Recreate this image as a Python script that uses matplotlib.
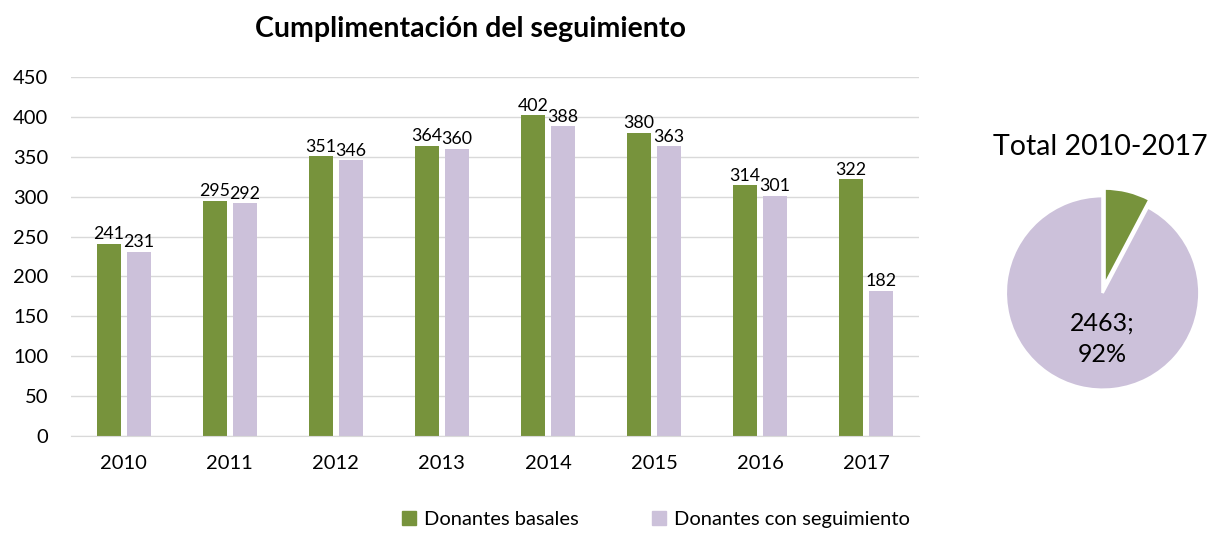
import numpy as np
import matplotlib.pyplot as plt
from matplotlib.patches import Patch

plt.rcParams['font.family'] = ['Lato', 'DejaVu Sans']

years = ['2010', '2011', '2012', '2013', '2014', '2015', '2016', '2017']
basales = [241, 295, 351, 364, 402, 380, 314, 322]
seguimiento = [231, 292, 346, 360, 388, 363, 301, 182]

green = '#77933C'
lilac = '#CCC1DA'

fig = plt.figure(figsize=(12.19, 5.34), dpi=100)

# barras
ax = fig.add_axes([0.058, 0.1835, 0.696, 0.6725])
x = np.arange(len(years))
w = 0.226
b1 = ax.bar(x - 0.142, basales, w, color=green)
b2 = ax.bar(x + 0.142, seguimiento, w, color=lilac)
for bars, vals in ((b1, basales), (b2, seguimiento)):
    for r, v in zip(bars, vals):
        ax.annotate(str(v), (r.get_x() + r.get_width() / 2, v), xytext=(0, 1),
                    textcoords='offset points', ha='center', va='bottom', fontsize=12.8)

ax.set_xlim(-0.5, len(years) - 0.5)
ax.set_ylim(0, 450)
ax.set_yticks(range(0, 451, 50))
ax.set_xticks(x)
ax.set_xticklabels(years)
ax.tick_params(length=0, labelsize=14.5)
ax.tick_params(axis='x', pad=14)
ax.tick_params(axis='y', pad=16)
ax.grid(axis='y', color='#D9D9D9', linewidth=1)
ax.set_axisbelow(True)
for s in ('top', 'right', 'left'):
    ax.spines[s].set_visible(False)
ax.spines['bottom'].set_color('#D9D9D9')
fig.text(0.386, 0.945, 'Cumplimentación del seguimiento', ha='center', va='center',
         fontsize=20.5, fontweight='bold')

fig.legend(handles=[Patch(color=green, label='Donantes basales'),
                    Patch(color=lilac, label='Donantes con seguimiento')],
           loc='center', bbox_to_anchor=(0.538, 0.027), ncol=2, frameon=False,
           fontsize=14.5, handlelength=0.7, handleheight=0.7, handletextpad=0.4,
           columnspacing=3.6)

# tarta
total_b = sum(basales)
total_s = sum(seguimiento)
sizes = [total_b - total_s, total_s]
pax = fig.add_axes([0.825, 0.27, 0.159, 0.363])
wedges, _ = pax.pie(sizes, colors=[green, lilac], startangle=90, counterclock=False,
                    explode=[0.08, 0], wedgeprops=dict(edgecolor='white', linewidth=2))
for wd in wedges:
    wd.set_clip_on(False)
pax.set_xlim(-1, 1)
pax.set_ylim(-1, 1)
pax.set_aspect('equal')
pax.axis('off')
pct = round(100 * total_s / total_b)
pax.text(0, -0.47, f'{total_s};\n{pct}%', ha='center', va='center', fontsize=18,
         linespacing=1.45)
fig.text(0.903, 0.725, 'Total 2010-2017', ha='center', va='center', fontsize=20.5)

fig.savefig('out.png', dpi=100)
